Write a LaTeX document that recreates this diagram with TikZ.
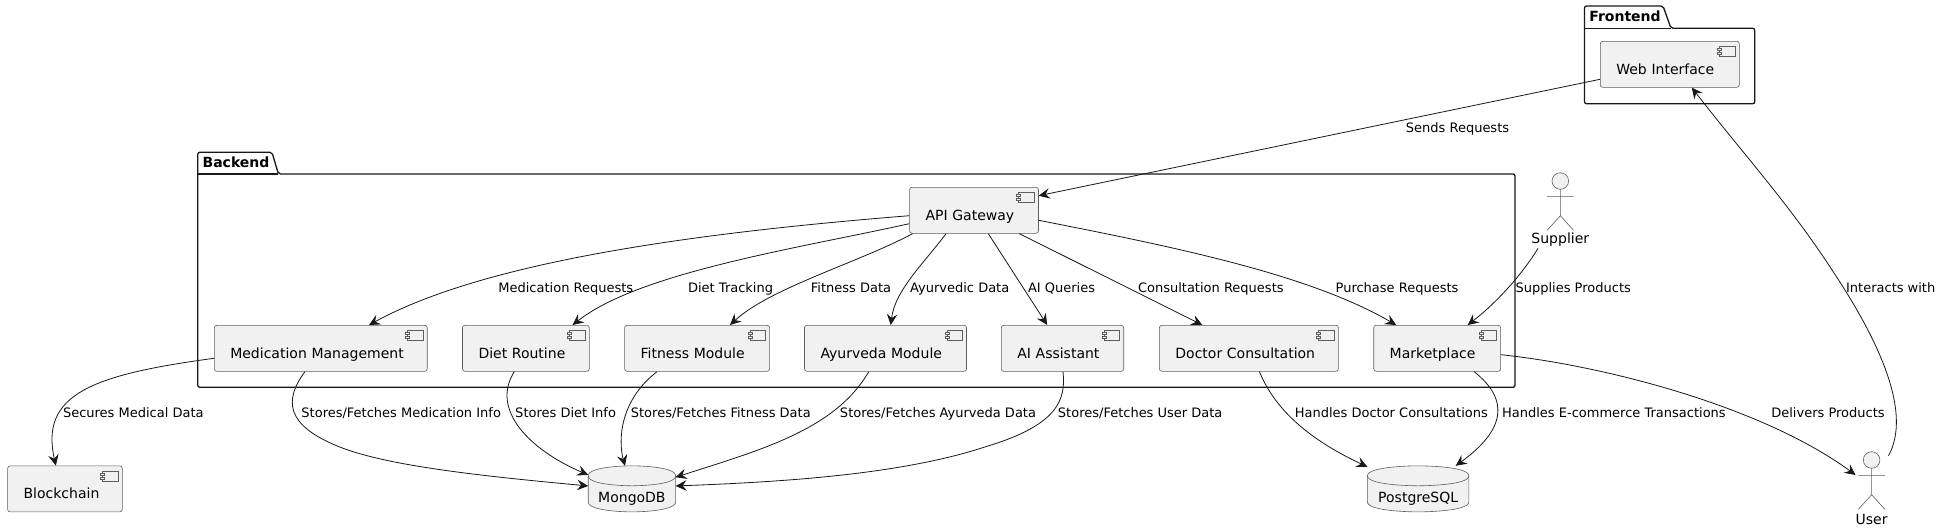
\documentclass[tikz,border=0pt]{standalone}
\usepackage{fontspec}
\setmainfont{DejaVu Sans}
\usetikzlibrary{arrows.meta,calc,backgrounds}
\definecolor{ink}{HTML}{181818}
\definecolor{boxfill}{HTML}{F1F1F1}
\tikzset{
  edge/.style={draw=ink,line width=0.8pt,-{Stealth[length=11pt,width=10.5pt,inset=4pt]}},
  pkg/.style={draw=ink,line width=1.3pt,rounded corners=2pt,fill=white},
  pkgtitle/.style={anchor=base,inner sep=0pt,font=\fontsize{14}{16}\selectfont\bfseries},
  thin box/.style={draw=ink!70,line width=0.6pt},
  comp/.style={thin box,fill=boxfill,rounded corners=2.5pt,inner xsep=16pt,inner ysep=0pt,
    text width=#1,align=left,text height=26pt,text depth=6pt,minimum height=46pt,
    font=\fontsize{14}{16}\selectfont},
  db/.style={inner sep=0pt,minimum width=#1,minimum height=45.7pt,text height=33pt,text depth=6pt,
    font=\fontsize{14}{16}\selectfont,align=center},
  act/.style={inner sep=0pt,font=\fontsize{14}{16}\selectfont},
  lab/.style={anchor=base,inner sep=0pt,font=\fontsize{13}{15}\selectfont},
}
\begin{document}
\begin{tikzpicture}[x=1pt,y=-1pt]
\useasboundingbox (0,0) rectangle (1942,531);
% packages
\draw[pkg] (1584.5,28.3) -- (1584.5,6) -- (1663,6) -- (1671,28.3) -- (1754.7,28.3) -- (1754.7,103.7) -- (1584.5,103.7) -- cycle;
\draw[ink,line width=1.3pt] (1584.5,28.3) -- (1671,28.3);
\node[pkgtitle] (tfront) at (1625,21.3) {Frontend};
\draw[pkg] (197.8,174) -- (197.8,152.3) -- (272,152.3) -- (278.4,174) -- (1515,174) -- (1515,387.3) -- (197.8,387.3) -- cycle;
\draw[ink,line width=1.3pt] (197.8,174) -- (278.4,174);
\node[pkgtitle] (tback) at (236,167.3) {Backend};
% components
\node[comp=107pt] (web) at (1669.8,64.3) {\mbox{Web Interface}};
\node[comp=96.9pt] (api) at (974,210.3) {\mbox{API Gateway}};
\node[comp=180.9pt] (med) at (320.75,348.3) {\mbox{Medication Management}};
\node[comp=94.8pt] (diet) at (525.9,348.3) {\mbox{Diet Routine}};
\node[comp=113pt] (fit) at (697.1,348.3) {\mbox{Fitness Module}};
\node[comp=130pt] (ayu) at (885.5,348.3) {\mbox{Ayurveda Module}};
\node[comp=90.4pt] (ai) at (1062.5,348.3) {\mbox{AI Assistant}};
\node[comp=147pt] (doc) at (1248.9,348.3) {\mbox{Doctor Consultation}};
\node[comp=94.9pt] (mkt) at (1437.15,348.3) {\mbox{Marketplace}};
\node[comp=82.7pt] (chain) at (64.95,488.9) {\mbox{Blockchain}};
\foreach \n in {web,api,med,diet,fit,ayu,ai,doc,mkt,chain}{
  \draw[thin box,fill=boxfill] ($(\n.north east)+(-20,5.4)$) rectangle ($(\n.north east)+(-4.6,15.4)$);
  \draw[thin box,fill=boxfill] ($(\n.north east)+(-22,7.4)$) rectangle ($(\n.north east)+(-18,9.4)$);
  \draw[thin box,fill=boxfill] ($(\n.north east)+(-22,11.4)$) rectangle ($(\n.north east)+(-18,13.4)$);
}
% databases
\node[db=87pt] (mongo) at (631.9,488.85) {MongoDB};
\node[db=101.1pt] (pg) at (1418.15,488.85) {PostgreSQL};
\begin{pgfonlayer}{background}
\foreach \n in {mongo,pg}{
  \draw[thin box,fill=boxfill]
    ($(\n.north west)+(0,10)$) .. controls (\n.north west) and (\n.north) .. (\n.north)
    .. controls (\n.north) and (\n.north east) .. ($(\n.north east)+(0,10)$)
    -- ($(\n.south east)+(0,-10)$)
    .. controls (\n.south east) and (\n.south) .. (\n.south)
    .. controls (\n.south) and (\n.south west) .. ($(\n.south west)+(0,-10)$) -- cycle;
  \draw[thin box]
    ($(\n.north west)+(0,10)$) .. controls ($(\n.north west)+(0,20)$) and ($(\n.north)+(0,20)$) .. ($(\n.north)+(0,20)$)
    .. controls ($(\n.north)+(0,20)$) and ($(\n.north east)+(0,20)$) .. ($(\n.north east)+(0,10)$);
}
\end{pgfonlayer}
% actors
\node[act] (sup) at (1560.3,240) {Supplier};
\node[act] (user) at (1871.6,519.3) {User};
\foreach \n/\t in {sup/59,user/59.3}{
  \draw[thin box,fill=boxfill] ($(\n)+(0,-\t)$) circle[radius=8.3];
  \draw[thin box] ($(\n)+(0,-\t+8.3)$) -- ($(\n)+(0,-\t+34.7)$)
     ($(\n)+(-13.2,-\t+15.3)$) -- ($(\n)+(13.2,-\t+15.3)$)
     ($(\n)+(-13.2,-\t+49.3)$) -- ($(\n)+(0,-\t+34.7)$) -- ($(\n)+(13.2,-\t+49.3)$);
}
% edges
\draw[edge] ($(web.west)+(0,15)$) -- ($(api.east)+(0,-14.6)$);
\draw[edge] ($(user)+(16.9,-63.6)$) .. controls (1908,420) and (1892,360) .. (1832,270) .. controls (1790,205) and (1740,150) .. ($(web.south)+(22,0)$);
\draw[edge] ($(api.west)+(0,5.4)$) .. controls (709.6,231.7) and (489,259.3) .. ($(med.north)+(48.2,0)$);
\draw[edge] ($(api.west)+(0,13.4)$) .. controls (800,248) and (640,272) .. ($(diet.north)+(46.7,0)$);
\draw[edge] ($(api.south west)+(3.4,0)$) .. controls (860,262) and (770,288) .. ($(fit.north)+(32.9,0)$);
\draw[edge] ($(api.south west)+(36.8,0)$) .. controls (925,262) and (895,290) .. ($(ayu.north)+(5.2,0)$);
\draw[edge] ($(api.south west)+(79,0)$) -- ($(ai.north)+(-15.3,0)$);
\draw[edge] ($(api.south west)+(110,0)$) -- ($(doc.north)+(-46.6,0)$);
\draw[edge] ($(api.east)+(0,10)$) .. controls (1180,248) and (1310,275) .. ($(mkt.north)+(-41,0)$);
\draw[edge] ($(sup)+(-22.3,8.3)$) .. controls (1525,270) and (1500,300) .. ($(mkt.north)+(30.5,0)$);
\draw[edge] ($(mkt.east)+(0,6.4)$) .. controls (1600,365) and (1760,405) .. ($(user)+(-16,-44.3)$);
\draw[edge] ($(mkt.south)+(36.9,0)$) .. controls (1510,400) and (1505,430) .. ($(pg.north)+(37.5,0)$);
\draw[edge] ($(doc.south)+(10.5,0)$) .. controls (1275,410) and (1310,440) .. ($(pg.north west)+(0,1)$);
\draw[edge] ($(med.west)+(0,10)$) .. controls (90,375) and (40,395) .. ($(chain.north)+(-9.1,0)$);
\draw[edge] ($(med.south)+(-15.8,0)$) .. controls (284,400) and (285,425) .. (339,446.7) .. controls (385,465) and (470,475) .. ($(mongo.west)+(0,-2.9)$);
\draw[edge] ($(diet.south)+(-11.6,0)$) .. controls (490,410) and (530,450) .. ($(mongo.west)+(0,-13.9)$);
\draw[edge] ($(fit.south)+(-40,0)$) .. controls (620,400) and (618,440) .. ($(mongo.north)+(-6.9,0)$);
\draw[edge] ($(ayu.south)+(-16.7,0)$) .. controls (835,430) and (760,450) .. ($(mongo.east)+(0,-11.6)$);
\draw[edge] ($(ai.south)+(0.5,0)$) .. controls (1066,400) and (1058,425) .. (985.7,446.7) .. controls (900,475) and (780,482) .. ($(mongo.east)+(0,-2.9)$);
% labels
\node[lab] (l1) at (1457.5,132.5) {Sends Requests};
\node[lab] (l2) at (565.8,292) {Medication Requests};
\node[lab] (l3) at (730.6,292) {Diet Tracking};
\node[lab] (l4) at (851,292) {Fitness Data};
\node[lab] (l5) at (959.7,292) {Ayurvedic Data};
\node[lab] (l6) at (1061.6,292) {AI Queries};
\node[lab] (l7) at (1210.8,292) {Consultation Requests};
\node[lab] (l8) at (1397,292) {Purchase Requests};
\node[lab] (l9) at (1573.2,292) {Supplies Products};
\node[lab] (l10) at (1890.7,292) {Interacts with};
\node[lab] (l11) at (133.3,417) {Secures Medical Data};
\node[lab] (l12) at (401.2,417) {Stores/Fetches Medication Info};
\node[lab] (l13) at (565.6,417) {Stores Diet Info};
\node[lab] (l14) at (720.8,417) {Stores/Fetches Fitness Data};
\node[lab] (l15) at (938,417) {Stores/Fetches Ayurveda Data};
\node[lab] (l16) at (1140.2,417) {Stores/Fetches User Data};
\node[lab] (l17) at (1391.3,417) {Handles Doctor Consultations};
\node[lab] (l18) at (1613.9,417) {Handles E-commerce Transactions};
\node[lab] (l19) at (1828,417) {Delivers Products};
\end{tikzpicture}
\end{document}
